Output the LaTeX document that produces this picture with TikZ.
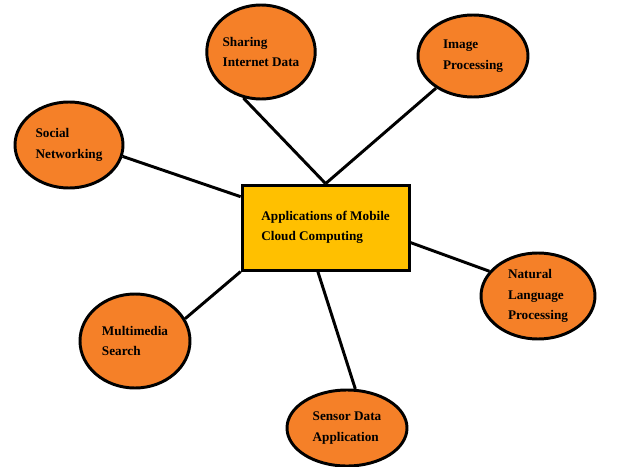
\documentclass[tikz,border=0pt]{standalone}
\usepackage{fontspec}
\setmainfont{Liberation Serif}
\usepackage{tikz}
\usetikzlibrary{shapes.geometric}
\definecolor{apporange}{RGB}{245,128,40}
\definecolor{hubgold}{RGB}{255,192,0}
\tikzset{
    appnode/.style={ellipse,draw=black,fill=apporange,line width=2.1pt,inner sep=0pt,align=left},
    hubbox/.style={rectangle,draw=black,fill=hubgold,line width=2.1pt,inner sep=0pt,align=left,
                   minimum width=4.175cm,minimum height=2.125cm},
    linkedge/.style={line width=2.1pt,draw=black},
    every node/.style={font=\fontsize{9.4}{14.5}\selectfont\bfseries}
}
\begin{document}
\begin{tikzpicture}
  \useasboundingbox (0,0) rectangle (15.5,11.65);

  \node[hubbox] (app) at (8.14,5.96) {Applications of Mobile\\Cloud Computing};

  \node[appnode,minimum width=2.7cm,minimum height=2.35cm] (sid) at (6.525,10.35) {Sharing\\Internet Data};
  \node[appnode,minimum width=2.75cm,minimum height=2.05cm] (imp) at (11.825,10.25) {Image\\Processing};
  \node[appnode,minimum width=2.7cm,minimum height=2.15cm] (soc) at (1.725,8.025) {Social\\Networking};
  \node[appnode,minimum width=2.85cm,minimum height=2.15cm] (nlp) at (13.45,4.25) {Natural\\Language\\Processing};
  \node[appnode,minimum width=2.75cm,minimum height=2.35cm] (mms) at (3.375,3.125) {Multimedia\\Search};
  \node[appnode,minimum width=3.0cm,minimum height=1.9cm] (sda) at (8.675,0.95) {Sensor Data\\Application};

  \draw[linkedge] (sid.-111) -- (app.north);
  \draw[linkedge] (imp.-139) -- (app.north);
  \draw[linkedge] (soc.-12) -- (app.160);
  \draw[linkedge] (app.-10) -- (nlp.153);
  \draw[linkedge] (app.south west) -- (mms.24);
  \draw[linkedge] (app.-100) -- (sda.78);
\end{tikzpicture}
\end{document}
